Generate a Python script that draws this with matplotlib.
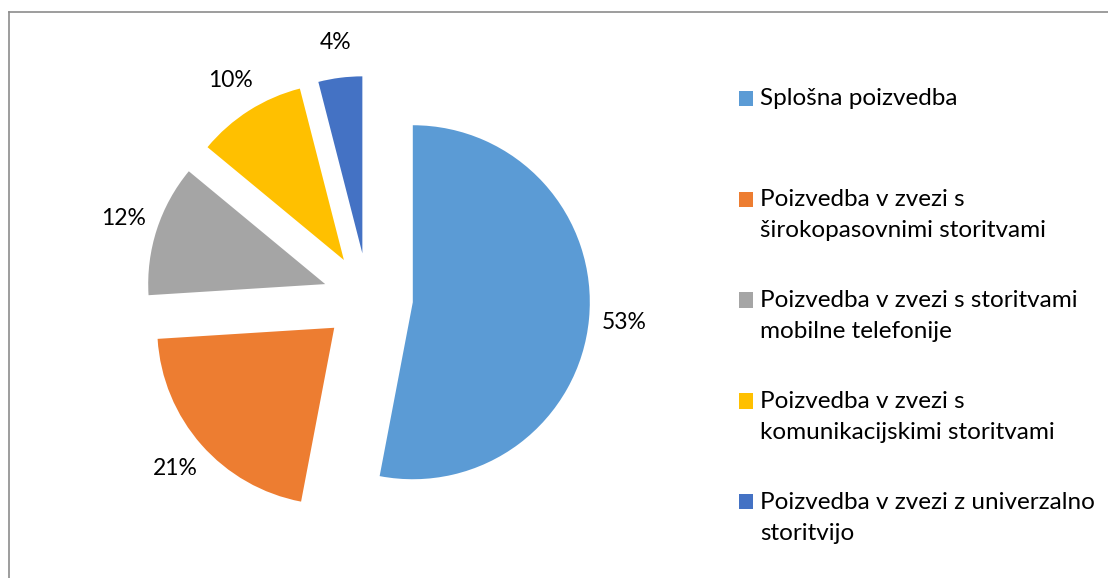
import matplotlib.pyplot as plt
from matplotlib.patches import Rectangle
from matplotlib.lines import Line2D
from matplotlib.legend_handler import HandlerPatch

# Data
categories = [
    'Splošna poizvedba',
    'Poizvedba v zvezi s\nširokopasovnimi storitvami',
    'Poizvedba v zvezi s storitvami\nmobilne telefonije',
    'Poizvedba v zvezi s\nkomunikacijskimi storitvami',
    'Poizvedba v zvezi z univerzalno\nstoritvijo',
]
shares = [53, 21, 12, 10, 4]
colors = ['#5B9BD5', '#ED7D31', '#A5A5A5', '#FFC000', '#4472C4']

plt.rcParams['font.family'] = ['Lato', 'DejaVu Sans']

W, H = 1108, 578
fig = plt.figure(figsize=(W / 100, H / 100), dpi=100)
ax = fig.add_axes([0, 0, 1, 1])

radius = 177
gap = 45
wedges, _, pcts = ax.pie(
    shares, colors=colors, startangle=90, counterclock=False,
    radius=radius, center=(368, H - 298), explode=[gap] * len(shares),
    autopct='%1.0f%%', pctdistance=1.2,
    textprops={'fontsize': 16.5, 'color': 'black'},
    wedgeprops={'linewidth': 0},
)
ax.set_xlim(0, W)
ax.set_ylim(0, H)
ax.set_aspect('equal')
ax.axis('off')

# chart frame (cut off at right and bottom like the original)
frame_col = '#8c8c8c'
fig.add_artist(Line2D([8.5 / W, 1], [1 - 12 / H, 1 - 12 / H], color=frame_col, lw=1.2))
fig.add_artist(Line2D([8.5 / W, 8.5 / W], [0, 1 - 12 / H], color=frame_col, lw=1.2))

# legend: handle aligned with the first line of each label
line_shift = 11.5  # points


class FirstLineHandler(HandlerPatch):
    def create_artists(self, legend, orig_handle, xdescent, ydescent,
                       width, height, fontsize, trans):
        p = Rectangle((-xdescent, -ydescent + line_shift), width, height)
        self.update_prop(p, orig_handle, legend)
        p.set_transform(trans)
        return [p]


labels = [c if '\n' in c else c + '\n' for c in categories]
leg = fig.legend(
    wedges, labels, loc='upper left',
    bbox_to_anchor=(739 / W, 1 - 88 / H), frameon=False,
    fontsize=17.5, borderpad=0, borderaxespad=0,
    handlelength=0.58, handleheight=0.58, handletextpad=0.3,
    labelspacing=1.99,
    handler_map={w: FirstLineHandler() for w in wedges},
)
for t in leg.get_texts():
    t.set_linespacing(1.62)
    t.set_color('black')

fig.savefig('out.png', dpi=100)
